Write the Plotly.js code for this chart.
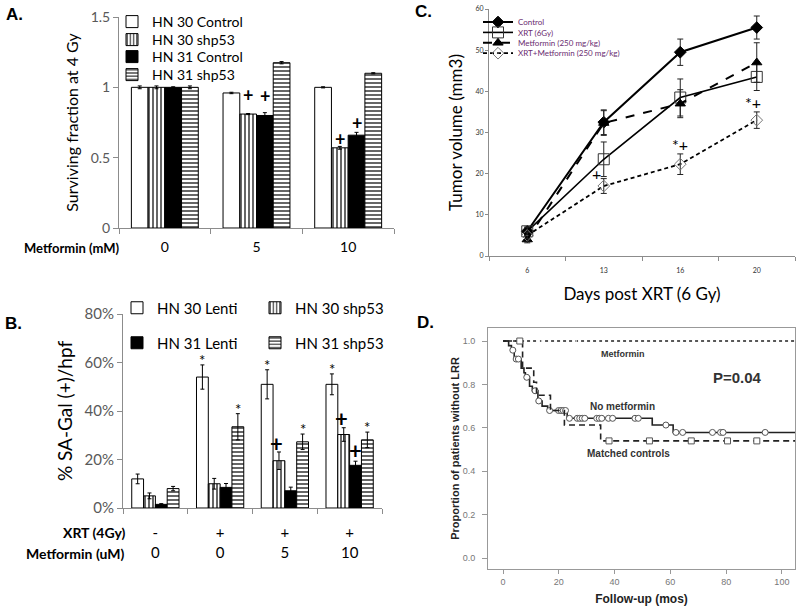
<!DOCTYPE html>
<html><head><meta charset="utf-8">
<script src="https://cdn.plot.ly/plotly-3.0.1.min.js"></script>
<style>html,body{margin:0;padding:0;background:#fff}#chart{width:800px;height:609px}</style>
</head><body><div id="chart"></div>
<script>
// ---------- Panel A: surviving fraction ----------
const aCategories = ['0', '5', '10'];
const aHN30Control = [1.0, 0.96, 1.0];
const aHN30ControlErr = [0.01, 0.005, 0.004];
const aHN30Shp53 = [1.0, 0.81, 0.57];
const aHN30Shp53Err = [0.01, 0.004, 0.01];
const aHN31Control = [1.0, 0.80, 0.66];
const aHN31ControlErr = [0.004, 0.02, 0.02];
const aHN31Shp53 = [1.0, 1.175, 1.10];
const aHN31Shp53Err = [0.01, 0.008, 0.004];
const aPlusHN30Shp53 = [1, 2];   // groups with "+"
const aPlusHN31Control = [1, 2];

// ---------- Panel B: SA-Gal ----------
const bXrt = ['-', '+', '+', '+'];
const bMetformin = ['0', '0', '5', '10'];
const bHN30Lenti = [0.12, 0.54, 0.51, 0.51];
const bHN30LentiErr = [0.02, 0.05, 0.06, 0.043];
const bHN30Shp53 = [0.05, 0.10, 0.195, 0.303];
const bHN30Shp53Err = [0.012, 0.022, 0.036, 0.028];
const bHN31Lenti = [0.015, 0.085, 0.071, 0.176];
const bHN31LentiErr = [0.003, 0.016, 0.015, 0.017];
const bHN31Shp53 = [0.08, 0.335, 0.273, 0.281];
const bHN31Shp53Err = [0.009, 0.054, 0.032, 0.032];
const bStarHN30Lenti = [1, 2, 3];
const bStarHN31Shp53 = [1, 2, 3];
const bPlusHN30Shp53 = [2, 3];
const bPlusHN31Lenti = [3];

// ---------- Panel C: tumor volume ----------
const cDays = ['6', '13', '16', '20'];
const cControl = [6.0, 32.5, 49.5, 55.5];
const cControlErr = [1.0, 3.0, 3.2, 2.8];
const cXrt = [6.0, 23.5, 38.5, 43.5];
const cXrtErr = [1.0, 4.2, 4.5, 3.3];
const cMetformin = [4.0, 32.3, 37.0, 47.0];
const cMetforminErr = [0.8, 3.0, 3.4, 4.8];
const cXrtMetformin = [5.0, 17.0, 22.3, 33.0];
const cXrtMetforminErr = [0.8, 1.8, 2.5, 2.0];

// ---------- Panel D: Kaplan-Meier ----------
const dEnd = 105;
const dNoMetTimes = [0, 2, 3, 4, 6.5, 7.5, 8, 9.5, 10.5, 12.5, 14, 16, 23, 53.5, 61];
const dNoMetSurv = [1.0, 0.979, 0.958, 0.917, 0.875, 0.854, 0.833, 0.792, 0.771, 0.724, 0.70, 0.68, 0.644, 0.613, 0.579];
const dNoMetCensor = [3.5, 4.7, 5.5, 8.5, 11.5, 12.8, 16.7, 19.9, 20.8, 21.6, 22.4, 23.8, 26.6, 27.5, 28.4, 29.3, 33.6, 34.5, 35.4, 37.8, 39.3, 47.3, 48.5, 58.4, 62, 64.4, 75.1, 78, 78.9, 94];
const dCtrlTimes = [0, 7, 11, 12, 17, 22, 35];
const dCtrlSurv = [1.0, 0.875, 0.81, 0.75, 0.68, 0.613, 0.54];
const dCtrlCensor = [6, 38, 52.5, 67.5, 80.5, 91];
const dMetTimes = [0];
const dMetSurv = [1.0];
const dMetCensor = [13.1, 13.9, 14.6, 25.3, 26.2, 27.4, 34.3, 90];

// ---------- helpers ----------
const BARGAP = 0.27;
function barOffset(i, n) { const w = (1 - BARGAP) / n; return (i - (n - 1) / 2) * w; }
const patV = {shape: '|', size: 4, solidity: 0.3, fgcolor: '#000', bgcolor: '#fff'};
const patH = {shape: '-', size: 4, solidity: 0.3, fgcolor: '#000', bgcolor: '#fff'};
const styles = [
  {color: '#fff'},
  {color: '#fff', pattern: patV},
  {color: '#000'},
  {color: '#fff', pattern: patH}
];
function bar(name, x, y, err, k, xa, ya, legend) {
  return {type: 'bar', name: name, x: x, y: y, xaxis: xa, yaxis: ya, legend: legend,
    marker: Object.assign({line: {color: '#000', width: 1}}, styles[k]),
    error_y: {type: 'data', array: err, visible: true, color: '#000', thickness: 1, width: 2},
    hoverinfo: 'skip'};
}
function stepAt(times, surv, t) {
  let v = surv[0];
  for (let i = 0; i < times.length; i++) if (times[i] <= t) v = surv[i];
  return v;
}

const bCats = bXrt.map((s, i) => s + '<br>' + bMetformin[i]);

const traces = [
  bar('HN 30 Control', aCategories, aHN30Control, aHN30ControlErr, 0, 'x', 'y', 'legend'),
  bar('HN 30 shp53', aCategories, aHN30Shp53, aHN30Shp53Err, 1, 'x', 'y', 'legend2'),
  bar('HN 31 Control', aCategories, aHN31Control, aHN31ControlErr, 2, 'x', 'y', 'legend3'),
  bar('HN 31 shp53', aCategories, aHN31Shp53, aHN31Shp53Err, 3, 'x', 'y', 'legend4'),
  bar('HN 30 Lenti', bCats, bHN30Lenti, bHN30LentiErr, 0, 'x2', 'y2', 'legend5'),
  bar('HN 30 shp53', bCats, bHN30Shp53, bHN30Shp53Err, 1, 'x2', 'y2', 'legend5'),
  bar('HN 31 Lenti', bCats, bHN31Lenti, bHN31LentiErr, 2, 'x2', 'y2', 'legend6'),
  bar('HN 31 shp53', bCats, bHN31Shp53, bHN31Shp53Err, 3, 'x2', 'y2', 'legend6')
];

function line(name, y, err, sym, msize, mcolor, dash, width, legend) {
  return {type: 'scatter', mode: 'lines+markers', name: name, x: cDays, y: y,
    xaxis: 'x3', yaxis: 'y3', legend: legend,
    line: {color: '#000', width: width, dash: dash},
    marker: {symbol: sym, size: msize, color: mcolor, line: {color: mcolor, width: 1}},
    error_y: {type: 'data', array: err, visible: true, color: '#222', thickness: 1, width: 3},
    hoverinfo: 'skip'};
}
traces.push(line('Control', cControl, cControlErr, 'diamond', 9, '#000', 'solid', 2, 'legend7'));
traces.push(line('XRT (6Gy)', cXrt, cXrtErr, 'square-open', 11, '#333', 'solid', 1.6, 'legend8'));
traces.push(line('Metformin (250 mg/kg)', cMetformin, cMetforminErr, 'triangle-up', 9, '#000', 'dash', 2, 'legend9'));
traces.push(line('XRT+Metformin (250 mg/kg)', cXrtMetformin, cXrtMetforminErr, 'diamond-open-dot', 9, '#777', '4px,3px', 1.8, 'legend10'));

function km(name, times, surv, censor, dash, sym, msize) {
  const xs = times.concat([dEnd]);
  const ys = surv.concat([surv[surv.length - 1]]);
  traces.push({type: 'scatter', mode: 'lines', name: name, x: xs, y: ys, xaxis: 'x4', yaxis: 'y4',
    line: {shape: 'hv', color: '#222', width: 1.6, dash: dash}, showlegend: false, hoverinfo: 'skip'});
  traces.push({type: 'scatter', mode: 'markers', name: name + ' censored', x: censor,
    y: censor.map(t => stepAt(times, surv, t)), xaxis: 'x4', yaxis: 'y4',
    marker: {symbol: sym, size: msize, color: '#fff', line: {color: '#555', width: 1}},
    showlegend: false, hoverinfo: 'skip'});
}
km('Metformin', dMetTimes, dMetSurv, dMetCensor, 'dot', 'line-ns-open', 4);
km('No metformin', dNoMetTimes, dNoMetSurv, dNoMetCensor, 'solid', 'circle', 6);
km('Matched controls', dCtrlTimes, dCtrlSurv, dCtrlCensor, '6px,4px', 'square', 6);

// ---------- annotations ----------
const ann = [];
function mark(text, xa, ya, x, y, size, bold, anchor) {
  ann.push({text: bold ? '<b>' + text + '</b>' : text, xref: xa, yref: ya, x: x, y: y,
    showarrow: false, xanchor: 'center', yanchor: anchor || 'bottom', font: {family: 'Lato', size: size, color: '#000'}});
}
aPlusHN30Shp53.forEach(g => mark('+', 'x', 'y', g + barOffset(1, 4), aHN30Shp53[g] + aHN30Shp53Err[g] + (g === 1 ? 0.13 : 0.055), 18, true, 'middle'));
aPlusHN31Control.forEach(g => mark('+', 'x', 'y', g + barOffset(2, 4), aHN31Control[g] + aHN31ControlErr[g] + (g === 1 ? 0.12 : 0.065), 18, true, 'middle'));
bStarHN30Lenti.forEach(g => mark('*', 'x2', 'y2', g + barOffset(0, 4), bHN30Lenti[g] + bHN30LentiErr[g] - 0.025, 15, false));
bStarHN31Shp53.forEach(g => mark('*', 'x2', 'y2', g + barOffset(3, 4), bHN31Shp53[g] + bHN31Shp53Err[g] - 0.025, 15, false));
bPlusHN30Shp53.forEach(g => mark('+', 'x2', 'y2', g + barOffset(1, 4) - 0.04, bHN30Shp53[g] + bHN30Shp53Err[g] - 0.027, 22, true));
bPlusHN31Lenti.forEach(g => mark('+', 'x2', 'y2', g + barOffset(2, 4), bHN31Lenti[g] + bHN31LentiErr[g] - 0.018, 22, true));
// Panel C significance marks
mark('+', 'x3', 'y3', 0.9, cXrtMetformin[1] + 0.3, 16, false);
mark('*+', 'x3', 'y3', 2.0, cXrtMetformin[2] + cXrtMetforminErr[2] - 0.6, 16, false);
mark('*+', 'x3', 'y3', 2.95, cXrtMetformin[3] + cXrtMetforminErr[3] - 0.4, 16, false);

function paperText(text, x, y, size, opts) {
  ann.push(Object.assign({text: text, xref: 'paper', yref: 'paper', x: x / 800, y: 1 - y / 609,
    showarrow: false, xanchor: 'center', yanchor: 'middle',
    font: {family: 'Lato', size: size, color: '#000'}}, opts || {}));
}
const arialB = (s, c) => ({family: 'Liberation Sans, Arial', size: s, color: c || '#000'});
paperText('<b>A.</b>', 14, 15, 16, {font: arialB(17)});
paperText('<b>B.</b>', 13, 323, 16, {font: arialB(17)});
paperText('<b>C.</b>', 423, 12, 16, {font: arialB(17)});
paperText('<b>D.</b>', 425, 322, 16, {font: arialB(17)});
paperText('<b>Metformin (mM)</b>', 121, 248, 13, {xanchor: 'right'});
paperText('<b>XRT (4Gy)</b>', 127, 532, 14, {xanchor: 'right'});
paperText('<b>Metformin (uM)</b>', 126, 553, 14, {xanchor: 'right'});
// Panel D labels (data coords)
function dText(text, x, y, size) {
  ann.push({text: '<b>' + text + '</b>', xref: 'x4', yref: 'y4', x: x, y: y, showarrow: false,
    xanchor: 'center', yanchor: 'middle',
    font: {family: 'Liberation Sans, Arial', size: size, color: '#333'}});
}
dText('Metformin', 43, 0.94, 9);
dText('P=0.04', 84, 0.834, 15);
dText('No metformin', 43, 0.70, 10);
dText('Matched controls', 45, 0.484, 10);

// ---------- layout ----------
const axBase = {showgrid: false, zeroline: false, showline: true, linecolor: '#8c8c8c', linewidth: 1,
  ticks: 'outside', tickcolor: '#8c8c8c', ticklen: 5, fixedrange: true};
function ax(extra) { return Object.assign({}, axBase, extra); }
function leg(xpx, ypx, size, color, extra) {
  return Object.assign({x: xpx / 800, y: 1 - ypx / 609, xanchor: 'left', yanchor: 'middle',
    bgcolor: 'rgba(0,0,0,0)', font: {family: 'Lato', size: size, color: color}}, extra || {});
}

const layout = {
  width: 800, height: 609, margin: {l: 0, r: 0, t: 0, b: 0},
  paper_bgcolor: '#fff', plot_bgcolor: 'rgba(0,0,0,0)',
  barmode: 'group', bargap: BARGAP, bargroupgap: 0,
  font: {family: 'Lato', color: '#000'},
  xaxis: ax({domain: [119 / 800, 394 / 800], anchor: 'y', type: 'category', range: [-0.5, 2.5],
    tickson: 'boundaries', tickfont: {family: 'Lato', size: 14, color: '#000'}, ticklabelstandoff: 6}),
  yaxis: ax({domain: [1 - 228 / 609, 1 - 17 / 609], anchor: 'x', range: [0, 1.5], tickvals: [0, 0.5, 1, 1.5],
    tickfont: {family: 'Lato', size: 14, color: '#595959'},
    title: {text: 'Surviving fraction at 4 Gy', font: {family: 'Lato', size: 16, color: '#000'}, standoff: 8}}),
  xaxis2: ax({domain: [123 / 800, 382 / 800], anchor: 'y2', type: 'category', range: [-0.5, 3.5],
    tickson: 'boundaries', tickfont: {family: 'Lato', size: 15, color: '#000'}, ticklabelstandoff: 11}),
  yaxis2: ax({domain: [1 - 508 / 609, 1 - 314 / 609], anchor: 'x2', range: [0, 0.8], dtick: 0.2, tickformat: '.0%',
    tickfont: {family: 'Lato', size: 15, color: '#595959'},
    title: {text: '% SA-Gal (+)/hpf', font: {family: 'Lato', size: 19, color: '#000'}, standoff: 6}}),
  xaxis3: ax({domain: [489 / 800, 795 / 800], anchor: 'y3', type: 'category', range: [-0.5, 3.5],
    tickson: 'boundaries', ticklen: 4, tickfont: {family: 'Lato', size: 7, color: '#333'}, ticklabelstandoff: 8,
    title: {text: 'Days post XRT (6 Gy)', font: {family: 'Lato', size: 17, color: '#000'}, standoff: 14}}),
  yaxis3: ax({domain: [1 - 256 / 609, 1 - 9 / 609], anchor: 'x3', range: [0, 60], dtick: 10, ticklen: 3,
    tickfont: {family: 'Lato', size: 7, color: '#333'},
    title: {text: 'Tumor volume (mm3)', font: {family: 'Lato', size: 17, color: '#000'}, standoff: 8}}),
  xaxis4: ax({domain: [488 / 800, 795 / 800], anchor: 'y4', range: [-5.4, 104.7], tickvals: [0, 20, 40, 60, 80, 100],
    mirror: true, linecolor: '#999', tickcolor: '#999', ticklen: 4,
    tickfont: {family: 'Liberation Sans, Arial', size: 9, color: '#777'},
    title: {text: '<b>Follow-up (mos)</b>', font: {family: 'Liberation Sans, Arial', size: 12, color: '#222'}, standoff: 8}}),
  yaxis4: ax({domain: [1 - 569 / 609, 1 - 328 / 609], anchor: 'x4', range: [-0.05, 1.06], tickvals: [0, 0.2, 0.4, 0.6, 0.8, 1.0],
    tickformat: '.1f', mirror: true, linecolor: '#999', tickcolor: '#999', ticklen: 5,
    tickfont: {family: 'Liberation Sans, Arial', size: 9, color: '#777'}, ticklabelstandoff: 5,
    title: {text: '<b>Proportion of patients without LRR</b>', font: {family: 'Liberation Sans, Arial', size: 11, color: '#222'}, standoff: 0}}),
  // Panel A legend rows
  legend: leg(112, 22, 14, '#000'),
  legend2: leg(112, 40, 14, '#000'),
  legend3: leg(112, 57, 14, '#000'),
  legend4: leg(112, 75, 14, '#000'),
  // Panel B legend rows
  legend5: leg(117, 308, 15, '#000', {orientation: 'h', entrywidth: 93}),
  legend6: leg(117, 343, 15, '#000', {orientation: 'h', entrywidth: 93}),
  // Panel C legend rows
  legend7: leg(478, 22, 8, '#6a2c70'),
  legend8: leg(478, 32.4, 8, '#6a2c70'),
  legend9: leg(478, 42.8, 8, '#6a2c70'),
  legend10: leg(478, 53.2, 8, '#6a2c70'),
  annotations: ann,
  showlegend: true
};

Plotly.newPlot('chart', traces, layout, {displayModeBar: false, staticPlot: true});
</script>
</body></html>
